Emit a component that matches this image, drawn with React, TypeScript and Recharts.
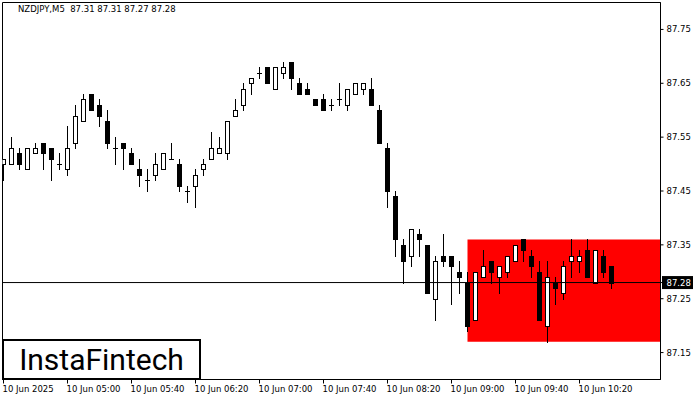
import { ComposedChart, Bar, XAxis, YAxis, ReferenceArea, ReferenceLine } from "recharts";

// NZDJPY M5 candles, 04:20 .. 10:40
const opens = [
  87.5, 87.5, 87.52, 87.49, 87.52, 87.54, 87.53, 87.5, 87.49, 87.54,
  87.58, 87.63, 87.61, 87.58, 87.53, 87.54, 87.52, 87.49, 87.47, 87.48,
  87.49, 87.51, 87.5, 87.45, 87.46, 87.49, 87.51, 87.52, 87.52, 87.59,
  87.61, 87.65, 87.67, 87.68, 87.64, 87.67, 87.69, 87.65, 87.64, 87.62,
  87.62, 87.61, 87.62, 87.61, 87.63, 87.64, 87.64, 87.6, 87.53, 87.44,
  87.35, 87.33, 87.37, 87.35, 87.25, 87.33, 87.33, 87.3, 87.28, 87.21,
  87.29, 87.32, 87.29, 87.3, 87.32, 87.36, 87.33, 87.3, 87.2, 87.28,
  87.26, 87.32, 87.32, 87.34, 87.28, 87.33, 87.31,
];
const highs = [
  87.51, 87.55, 87.53, 87.53, 87.54, 87.54, 87.53, 87.52, 87.57, 87.61,
  87.63, 87.63, 87.62, 87.6, 87.55, 87.54, 87.53, 87.51, 87.49, 87.52,
  87.52, 87.54, 87.51, 87.46, 87.49, 87.51, 87.56, 87.55, 87.58, 87.62,
  87.65, 87.66, 87.68, 87.68, 87.68, 87.69, 87.69, 87.66, 87.65, 87.62,
  87.63, 87.62, 87.65, 87.64, 87.65, 87.65, 87.66, 87.61, 87.54, 87.45,
  87.36, 87.38, 87.38, 87.35, 87.33, 87.37, 87.33, 87.32, 87.3, 87.3,
  87.34, 87.32, 87.31, 87.33, 87.35, 87.36, 87.34, 87.32, 87.32, 87.29,
  87.32, 87.36, 87.34, 87.36, 87.34, 87.34, 87.31,
];
const lows = [
  87.47, 87.5, 87.49, 87.49, 87.52, 87.49, 87.47, 87.49, 87.48, 87.53,
  87.58, 87.6, 87.57, 87.53, 87.5, 87.49, 87.5, 87.46, 87.45, 87.47,
  87.49, 87.51, 87.45, 87.43, 87.42, 87.48, 87.51, 87.52, 87.51, 87.59,
  87.6, 87.63, 87.66, 87.65, 87.64, 87.66, 87.64, 87.63, 87.63, 87.61,
  87.6, 87.6, 87.61, 87.6, 87.63, 87.63, 87.61, 87.54, 87.42, 87.33,
  87.28, 87.31, 87.33, 87.26, 87.21, 87.31, 87.24, 87.26, 87.19, 87.21,
  87.29, 87.28, 87.26, 87.29, 87.32, 87.32, 87.29, 87.21, 87.17, 87.24,
  87.25, 87.29, 87.3, 87.29, 87.28, 87.29, 87.27,
];
const closes = [
  87.51, 87.53, 87.5, 87.53, 87.53, 87.52, 87.51, 87.5, 87.53, 87.59,
  87.62, 87.6, 87.59, 87.54, 87.53, 87.53, 87.5, 87.48, 87.47, 87.5,
  87.52, 87.51, 87.46, 87.45, 87.48, 87.5, 87.53, 87.53, 87.58, 87.6,
  87.64, 87.66, 87.67, 87.65, 87.68, 87.68, 87.66, 87.63, 87.63, 87.61,
  87.6, 87.61, 87.62, 87.64, 87.65, 87.65, 87.61, 87.54, 87.45, 87.36,
  87.32, 87.38, 87.36, 87.26, 87.32, 87.32, 87.31, 87.29, 87.2, 87.3,
  87.31, 87.3, 87.31, 87.33, 87.35, 87.34, 87.31, 87.21, 87.29, 87.27,
  87.31, 87.33, 87.33, 87.29, 87.34, 87.3, 87.28,
];

const timeTickIdx = [0, 8, 16, 24, 32, 40, 48, 56, 64, 72];
const timeLabels = [
  "10 Jun 2025", "10 Jun 05:00", "10 Jun 05:40", "10 Jun 06:20", "10 Jun 07:00",
  "10 Jun 07:40", "10 Jun 08:20", "10 Jun 09:00", "10 Jun 09:40", "10 Jun 10:20",
];
const priceTicks = [87.15, 87.25, 87.28, 87.35, 87.45, 87.55, 87.65, 87.75];
const lastPrice = 87.28;
const zoneFrom = 58;
const zoneLow = 87.17;
const zoneHigh = 87.36;

const X_MIN = -0.125;
const X_MAX = 82.125;
const Y_MIN = 87.1;
const Y_MAX = 87.8;

const FONT = "'DejaVu Sans', Tahoma, sans-serif";

const data = opens.map((o, i) => ({ i, o, h: highs[i], l: lows[i], c: closes[i] }));

function Candle(props: any) {
  const { x, y, width, height, payload } = props;
  if (x == null || y == null) return null;
  const cx = Math.round(x + width / 2 - 0.5) + 0.5;
  const top = Math.min(y, y + height);
  const bot = Math.max(y, y + height);
  const { o, h, l, c } = payload;
  const span = h - l;
  const py = (v: number) => (span === 0 ? top : top + ((h - v) / span) * (bot - top));
  const yo = py(o);
  const yc = py(c);
  const bTop = Math.round(Math.min(yo, yc));
  const bBot = Math.round(Math.max(yo, yc));
  const wick = (
    <line x1={cx} x2={cx} y1={Math.round(top)} y2={Math.round(bot) + 1} stroke="#000" strokeWidth={1} />
  );
  if (bBot - bTop < 1) {
    return (
      <g>
        {wick}
        <line x1={cx - 2.5} x2={cx + 2.5} y1={bTop + 0.5} y2={bTop + 0.5} stroke="#000" strokeWidth={1} />
      </g>
    );
  }
  if (c >= o) {
    return (
      <g>
        {wick}
        <rect x={cx - 2} y={bTop + 0.5} width={4} height={bBot - bTop} fill="#fff" stroke="#000" strokeWidth={1} />
      </g>
    );
  }
  return (
    <g>
      {wick}
      <rect x={cx - 2.5} y={bTop} width={5} height={bBot - bTop + 1} fill="#000" />
    </g>
  );
}

function TimeTick({ x, y, payload }: any) {
  const idx = timeTickIdx.indexOf(payload.value);
  return (
    <text x={x - 1} y={y + 6} fontSize={8.5} fontFamily={FONT} fill="#000" textAnchor="start">
      {idx >= 0 ? timeLabels[idx] : ""}
    </text>
  );
}

function PriceTick({ x, y, payload }: any) {
  const v = payload.value as number;
  if (Math.abs(v - lastPrice) < 1e-6) {
    return (
      <g>
        <rect x={x - 4.5} y={y - 6.5} width={31} height={13} fill="#000" />
        <text x={x} y={y + 3} fontSize={8.5} fontFamily={FONT} fill="#fff" textAnchor="start">
          {v.toFixed(2)}
        </text>
      </g>
    );
  }
  return (
    <text x={x} y={y + 3} fontSize={8.5} fontFamily={FONT} fill="#000" textAnchor="start">
      {v.toFixed(2)}
    </text>
  );
}

export default function App() {
  return (
    <div style={{ position: "absolute", left: 0, top: 0, width: 700, height: 400, background: "#fff" }}>
      <ComposedChart
        width={700}
        height={400}
        data={data}
        margin={{ top: 2.5, right: 0, bottom: 0, left: 2.5 }}
      >
        <XAxis
          dataKey="i"
          type="number"
          domain={[X_MIN, X_MAX]}
          ticks={timeTickIdx}
          allowDataOverflow
          height={20.5}
          axisLine={{ stroke: "#000" }}
          tickLine={{ stroke: "#000" }}
          tickSize={4}
          tickMargin={2}
          tick={<TimeTick />}
          interval={0}
        />
        <YAxis
          orientation="right"
          type="number"
          domain={[Y_MIN, Y_MAX]}
          ticks={priceTicks}
          allowDataOverflow
          width={39.5}
          axisLine={{ stroke: "#000" }}
          tickLine={{ stroke: "#000" }}
          tickSize={3}
          tickMargin={3}
          tick={<PriceTick />}
          interval={0}
        />
        <ReferenceArea
          x1={zoneFrom}
          x2={X_MAX}
          y1={zoneLow}
          y2={zoneHigh}
          fill="#ff0000"
          fillOpacity={1}
          stroke="none"
        />
        <ReferenceArea
          x1={X_MIN}
          x2={X_MAX}
          y1={Y_MIN}
          y2={Y_MAX}
          fill="none"
          fillOpacity={0}
          stroke="#000"
          strokeWidth={1}
        />
        <Bar
          dataKey={(d: any) => [d.l, d.h]}
          barSize={5}
          shape={Candle}
          isAnimationActive={false}
        />
        <ReferenceLine y={lastPrice} stroke="#000" strokeWidth={1} />
      </ComposedChart>
      <div
        style={{
          position: "absolute",
          left: 18,
          top: 4,
          fontFamily: FONT,
          fontSize: 8.5,
          color: "#000",
          whiteSpace: "pre",
        }}
      >
        NZDJPY,M5  87.31 87.31 87.27 87.28
      </div>
      <div
        style={{
          position: "absolute",
          left: 2,
          top: 339,
          width: 195,
          height: 37,
          border: "2px solid #000",
          background: "#fff",
          display: "flex",
          alignItems: "center",
          justifyContent: "center",
          fontFamily: "Roboto, 'Open Sans', sans-serif",
          fontSize: 30,
          color: "#000",
        }}
      >
        InstaFintech
      </div>
    </div>
  );
}
